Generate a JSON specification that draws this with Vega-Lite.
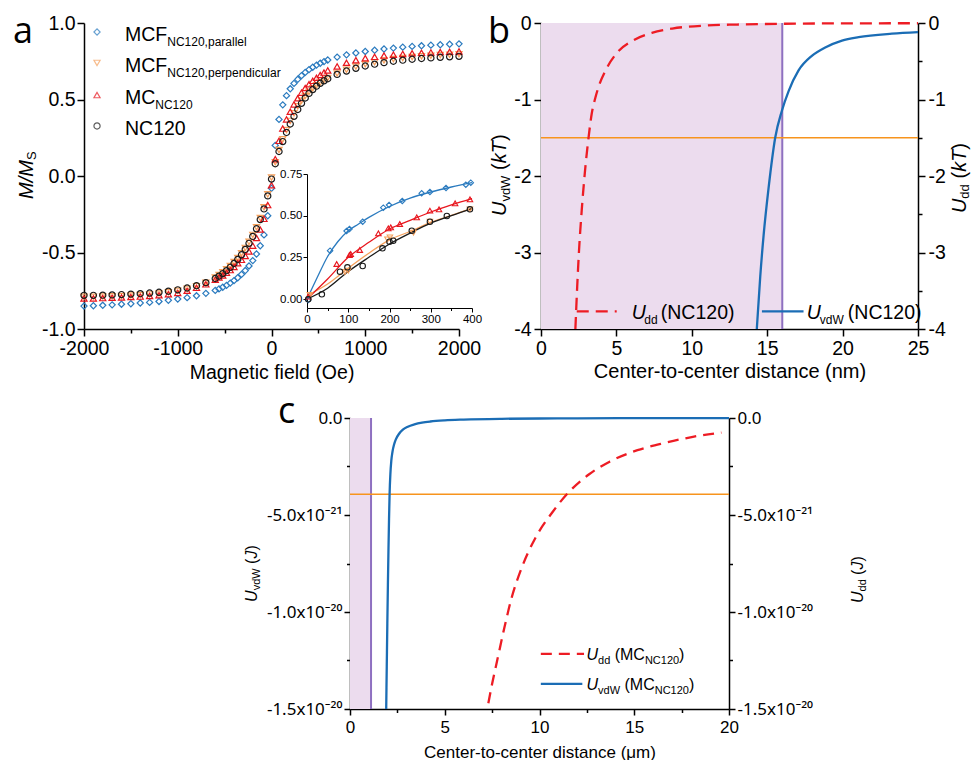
{
"$schema": "https://vega.github.io/schema/vega-lite/v6.json",
"padding": {"left": 13, "top": 13, "right": 0, "bottom": 0},
"background": "white",
"config": {
  "font": "Liberation Sans",
  "view": {"stroke": null},
  "axis": {"grid": false, "domainColor": "#000000", "tickColor": "#000000", "labelColor": "#000000", "titleColor": "#000000", "domainWidth": 1.5, "tickWidth": 1.5, "labelFlush": false, "labelOverlap": false, "labelBound": false, "titleFontWeight": "normal", "labelFont": "Liberation Sans", "titleFont": "Liberation Sans"},
  "text": {"font": "Liberation Sans", "color": "#000000"}
},
"datasets": {
  "magnet": [
    {"s":"p","h":-2000,"m":-0.85},{"s":"p","h":-1900,"m":-0.848},{"s":"p","h":-1800,"m":-0.845},{"s":"p","h":-1700,"m":-0.842},{"s":"p","h":-1600,"m":-0.838},{"s":"p","h":-1500,"m":-0.835},{"s":"p","h":-1400,"m":-0.83},{"s":"p","h":-1300,"m":-0.826},{"s":"p","h":-1200,"m":-0.82},{"s":"p","h":-1100,"m":-0.812},{"s":"p","h":-1000,"m":-0.804},{"s":"p","h":-900,"m":-0.795},{"s":"p","h":-800,"m":-0.783},{"s":"p","h":-700,"m":-0.767},{"s":"p","h":-600,"m":-0.748},{"s":"p","h":-560,"m":-0.738},{"s":"p","h":-520,"m":-0.727},{"s":"p","h":-480,"m":-0.715},{"s":"p","h":-440,"m":-0.7},{"s":"p","h":-400,"m":-0.684},{"s":"p","h":-360,"m":-0.665},{"s":"p","h":-320,"m":-0.643},{"s":"p","h":-280,"m":-0.618},{"s":"p","h":-240,"m":-0.588},{"s":"p","h":-200,"m":-0.553},{"s":"p","h":-160,"m":-0.51},{"s":"p","h":-120,"m":-0.456},{"s":"p","h":-80,"m":-0.385},{"s":"p","h":-40,"m":-0.26},{"s":"p","h":0,"m":-0.08},{"s":"p","h":40,"m":0.2},{"s":"p","h":80,"m":0.37},{"s":"p","h":120,"m":0.465},{"s":"p","h":160,"m":0.525},{"s":"p","h":200,"m":0.57},{"s":"p","h":240,"m":0.605},{"s":"p","h":280,"m":0.632},{"s":"p","h":320,"m":0.656},{"s":"p","h":360,"m":0.677},{"s":"p","h":400,"m":0.695},{"s":"p","h":440,"m":0.711},{"s":"p","h":480,"m":0.725},{"s":"p","h":520,"m":0.737},{"s":"p","h":560,"m":0.748},{"s":"p","h":600,"m":0.758},{"s":"p","h":700,"m":0.777},{"s":"p","h":800,"m":0.792},{"s":"p","h":900,"m":0.804},{"s":"p","h":1000,"m":0.814},{"s":"p","h":1100,"m":0.822},{"s":"p","h":1200,"m":0.83},{"s":"p","h":1300,"m":0.836},{"s":"p","h":1400,"m":0.842},{"s":"p","h":1500,"m":0.847},{"s":"p","h":1600,"m":0.851},{"s":"p","h":1700,"m":0.855},{"s":"p","h":1800,"m":0.858},{"s":"p","h":1900,"m":0.861},{"s":"p","h":2000,"m":0.864},
    {"s":"o","h":-2000,"m":-0.79},{"s":"o","h":-1900,"m":-0.79},{"s":"o","h":-1800,"m":-0.788},{"s":"o","h":-1700,"m":-0.786},{"s":"o","h":-1600,"m":-0.784},{"s":"o","h":-1500,"m":-0.781},{"s":"o","h":-1400,"m":-0.778},{"s":"o","h":-1300,"m":-0.774},{"s":"o","h":-1200,"m":-0.768},{"s":"o","h":-1100,"m":-0.76},{"s":"o","h":-1000,"m":-0.75},{"s":"o","h":-900,"m":-0.737},{"s":"o","h":-800,"m":-0.72},{"s":"o","h":-700,"m":-0.698},{"s":"o","h":-600,"m":-0.664},{"s":"o","h":-560,"m":-0.648},{"s":"o","h":-520,"m":-0.63},{"s":"o","h":-480,"m":-0.61},{"s":"o","h":-440,"m":-0.588},{"s":"o","h":-400,"m":-0.563},{"s":"o","h":-360,"m":-0.536},{"s":"o","h":-320,"m":-0.505},{"s":"o","h":-280,"m":-0.47},{"s":"o","h":-240,"m":-0.43},{"s":"o","h":-200,"m":-0.385},{"s":"o","h":-160,"m":-0.335},{"s":"o","h":-120,"m":-0.275},{"s":"o","h":-80,"m":-0.205},{"s":"o","h":-40,"m":-0.12},{"s":"o","h":0,"m":-0.01},{"s":"o","h":40,"m":0.09},{"s":"o","h":80,"m":0.17},{"s":"o","h":120,"m":0.24},{"s":"o","h":160,"m":0.3},{"s":"o","h":200,"m":0.36},{"s":"o","h":240,"m":0.41},{"s":"o","h":280,"m":0.455},{"s":"o","h":320,"m":0.492},{"s":"o","h":360,"m":0.523},{"s":"o","h":400,"m":0.55},{"s":"o","h":440,"m":0.573},{"s":"o","h":480,"m":0.593},{"s":"o","h":520,"m":0.611},{"s":"o","h":560,"m":0.627},{"s":"o","h":600,"m":0.641},{"s":"o","h":700,"m":0.67},{"s":"o","h":800,"m":0.695},{"s":"o","h":900,"m":0.715},{"s":"o","h":1000,"m":0.731},{"s":"o","h":1100,"m":0.744},{"s":"o","h":1200,"m":0.755},{"s":"o","h":1300,"m":0.764},{"s":"o","h":1400,"m":0.771},{"s":"o","h":1500,"m":0.777},{"s":"o","h":1600,"m":0.782},{"s":"o","h":1700,"m":0.786},{"s":"o","h":1800,"m":0.79},{"s":"o","h":1900,"m":0.793},{"s":"o","h":2000,"m":0.796},
    {"s":"r","h":-2000,"m":-0.8},{"s":"r","h":-1900,"m":-0.8},{"s":"r","h":-1800,"m":-0.798},{"s":"r","h":-1700,"m":-0.796},{"s":"r","h":-1600,"m":-0.794},{"s":"r","h":-1500,"m":-0.791},{"s":"r","h":-1400,"m":-0.788},{"s":"r","h":-1300,"m":-0.784},{"s":"r","h":-1200,"m":-0.779},{"s":"r","h":-1100,"m":-0.772},{"s":"r","h":-1000,"m":-0.764},{"s":"r","h":-900,"m":-0.75},{"s":"r","h":-800,"m":-0.731},{"s":"r","h":-700,"m":-0.708},{"s":"r","h":-600,"m":-0.678},{"s":"r","h":-560,"m":-0.664},{"s":"r","h":-520,"m":-0.65},{"s":"r","h":-480,"m":-0.633},{"s":"r","h":-440,"m":-0.615},{"s":"r","h":-400,"m":-0.594},{"s":"r","h":-360,"m":-0.57},{"s":"r","h":-320,"m":-0.548},{"s":"r","h":-280,"m":-0.522},{"s":"r","h":-240,"m":-0.493},{"s":"r","h":-200,"m":-0.455},{"s":"r","h":-160,"m":-0.405},{"s":"r","h":-120,"m":-0.35},{"s":"r","h":-80,"m":-0.28},{"s":"r","h":-40,"m":-0.19},{"s":"r","h":0,"m":-0.06},{"s":"r","h":40,"m":0.11},{"s":"r","h":80,"m":0.23},{"s":"r","h":120,"m":0.31},{"s":"r","h":160,"m":0.37},{"s":"r","h":200,"m":0.42},{"s":"r","h":240,"m":0.468},{"s":"r","h":280,"m":0.508},{"s":"r","h":320,"m":0.545},{"s":"r","h":360,"m":0.575},{"s":"r","h":400,"m":0.6},{"s":"r","h":440,"m":0.622},{"s":"r","h":480,"m":0.642},{"s":"r","h":520,"m":0.66},{"s":"r","h":560,"m":0.676},{"s":"r","h":600,"m":0.69},{"s":"r","h":700,"m":0.716},{"s":"r","h":800,"m":0.74},{"s":"r","h":900,"m":0.757},{"s":"r","h":1000,"m":0.77},{"s":"r","h":1100,"m":0.779},{"s":"r","h":1200,"m":0.787},{"s":"r","h":1300,"m":0.793},{"s":"r","h":1400,"m":0.798},{"s":"r","h":1500,"m":0.802},{"s":"r","h":1600,"m":0.805},{"s":"r","h":1700,"m":0.808},{"s":"r","h":1800,"m":0.81},{"s":"r","h":1900,"m":0.812},{"s":"r","h":2000,"m":0.814},
    {"s":"n","h":-2000,"m":-0.78},{"s":"n","h":-1900,"m":-0.78},{"s":"n","h":-1800,"m":-0.779},{"s":"n","h":-1700,"m":-0.777},{"s":"n","h":-1600,"m":-0.775},{"s":"n","h":-1500,"m":-0.772},{"s":"n","h":-1400,"m":-0.769},{"s":"n","h":-1300,"m":-0.765},{"s":"n","h":-1200,"m":-0.76},{"s":"n","h":-1100,"m":-0.753},{"s":"n","h":-1000,"m":-0.744},{"s":"n","h":-900,"m":-0.732},{"s":"n","h":-800,"m":-0.717},{"s":"n","h":-700,"m":-0.697},{"s":"n","h":-600,"m":-0.67},{"s":"n","h":-560,"m":-0.655},{"s":"n","h":-520,"m":-0.638},{"s":"n","h":-480,"m":-0.619},{"s":"n","h":-440,"m":-0.597},{"s":"n","h":-400,"m":-0.572},{"s":"n","h":-360,"m":-0.545},{"s":"n","h":-320,"m":-0.515},{"s":"n","h":-280,"m":-0.48},{"s":"n","h":-240,"m":-0.44},{"s":"n","h":-200,"m":-0.395},{"s":"n","h":-160,"m":-0.345},{"s":"n","h":-120,"m":-0.285},{"s":"n","h":-80,"m":-0.215},{"s":"n","h":-40,"m":-0.13},{"s":"n","h":0,"m":-0.02},{"s":"n","h":40,"m":0.08},{"s":"n","h":80,"m":0.16},{"s":"n","h":120,"m":0.225},{"s":"n","h":160,"m":0.285},{"s":"n","h":200,"m":0.34},{"s":"n","h":240,"m":0.39},{"s":"n","h":280,"m":0.435},{"s":"n","h":320,"m":0.475},{"s":"n","h":360,"m":0.51},{"s":"n","h":400,"m":0.54},{"s":"n","h":440,"m":0.565},{"s":"n","h":480,"m":0.587},{"s":"n","h":520,"m":0.606},{"s":"n","h":560,"m":0.622},{"s":"n","h":600,"m":0.636},{"s":"n","h":700,"m":0.664},{"s":"n","h":800,"m":0.686},{"s":"n","h":900,"m":0.704},{"s":"n","h":1000,"m":0.719},{"s":"n","h":1100,"m":0.731},{"s":"n","h":1200,"m":0.741},{"s":"n","h":1300,"m":0.75},{"s":"n","h":1400,"m":0.757},{"s":"n","h":1500,"m":0.763},{"s":"n","h":1600,"m":0.768},{"s":"n","h":1700,"m":0.772},{"s":"n","h":1800,"m":0.776},{"s":"n","h":1900,"m":0.779},{"s":"n","h":2000,"m":0.782}
  ],
  "inset_pts": [
    {"s":"p","h":3,"m":-0.006},{"s":"p","h":56,"m":0.29},{"s":"p","h":96,"m":0.408},{"s":"p","h":103,"m":0.42},{"s":"p","h":135,"m":0.464},{"s":"p","h":185,"m":0.548},{"s":"p","h":199,"m":0.564},{"s":"p","h":231,"m":0.588},{"s":"p","h":278,"m":0.634},{"s":"p","h":298,"m":0.642},{"s":"p","h":337,"m":0.666},{"s":"p","h":385,"m":0.686},{"s":"p","h":397,"m":0.698},
    {"s":"o","h":7,"m":0.024},{"s":"o","h":92,"m":0.162},{"s":"o","h":100,"m":0.17},{"s":"o","h":195,"m":0.358},{"s":"o","h":201,"m":0.37},{"s":"o","h":258,"m":0.398},{"s":"o","h":298,"m":0.464},{"s":"o","h":395,"m":0.538},
    {"s":"r","h":3,"m":0.014},{"s":"r","h":72,"m":0.21},{"s":"r","h":103,"m":0.264},{"s":"r","h":106,"m":0.27},{"s":"r","h":128,"m":0.294},{"s":"r","h":173,"m":0.394},{"s":"r","h":197,"m":0.424},{"s":"r","h":203,"m":0.43},{"s":"r","h":225,"m":0.45},{"s":"r","h":266,"m":0.49},{"s":"r","h":298,"m":0.53},{"s":"r","h":320,"m":0.538},{"s":"r","h":359,"m":0.574},{"s":"r","h":395,"m":0.598},
    {"s":"n","h":3,"m":-0.002},{"s":"n","h":36,"m":0.028},{"s":"n","h":80,"m":0.164},{"s":"n","h":98,"m":0.19},{"s":"n","h":135,"m":0.198},{"s":"n","h":183,"m":0.304},{"s":"n","h":200,"m":0.344},{"s":"n","h":209,"m":0.35},{"s":"n","h":254,"m":0.41},{"s":"n","h":298,"m":0.464},{"s":"n","h":339,"m":0.498},{"s":"n","h":395,"m":0.538}
  ],
  "inset_lines": [
    {"s":"p","h":0,"m":0.0},{"s":"p","h":25,"m":0.13},{"s":"p","h":50,"m":0.255},{"s":"p","h":75,"m":0.345},{"s":"p","h":100,"m":0.41},{"s":"p","h":125,"m":0.45},{"s":"p","h":150,"m":0.49},{"s":"p","h":200,"m":0.555},{"s":"p","h":250,"m":0.605},{"s":"p","h":300,"m":0.642},{"s":"p","h":350,"m":0.672},{"s":"p","h":400,"m":0.698},
    {"s":"o","h":0,"m":0.02},{"s":"o","h":50,"m":0.09},{"s":"o","h":100,"m":0.185},{"s":"o","h":150,"m":0.275},{"s":"o","h":200,"m":0.355},{"s":"o","h":250,"m":0.405},{"s":"o","h":300,"m":0.46},{"s":"o","h":350,"m":0.502},{"s":"o","h":400,"m":0.545},
    {"s":"r","h":0,"m":0.0},{"s":"r","h":50,"m":0.12},{"s":"r","h":100,"m":0.25},{"s":"r","h":150,"m":0.34},{"s":"r","h":200,"m":0.42},{"s":"r","h":250,"m":0.472},{"s":"r","h":300,"m":0.522},{"s":"r","h":350,"m":0.565},{"s":"r","h":400,"m":0.603},
    {"s":"n","h":0,"m":0.0},{"s":"n","h":50,"m":0.065},{"s":"n","h":100,"m":0.165},{"s":"n","h":150,"m":0.25},{"s":"n","h":200,"m":0.33},{"s":"n","h":250,"m":0.395},{"s":"n","h":300,"m":0.455},{"s":"n","h":350,"m":0.5},{"s":"n","h":400,"m":0.542}
  ],
  "b_vdw": [
    {"d":14.31,"u":-4.0},{"d":14.54,"u":-3.31},{"d":14.76,"u":-2.78},{"d":15.09,"u":-2.16},{"d":15.53,"u":-1.5},{"d":15.97,"u":-1.15},{"d":16.42,"u":-0.89},{"d":17.08,"u":-0.62},{"d":17.96,"u":-0.43},{"d":18.85,"u":-0.32},{"d":19.96,"u":-0.23},{"d":21.06,"u":-0.185},{"d":23.27,"u":-0.14},{"d":25,"u":-0.12}
  ],
  "b_dd": [
    {"d":2.28,"u":-4.0},{"d":2.4,"u":-3.45},{"d":2.52,"u":-2.98},{"d":2.7,"u":-2.45},{"d":2.92,"u":-1.93},{"d":3.14,"u":-1.52},{"d":3.36,"u":-1.19},{"d":3.6,"u":-0.98},{"d":3.8,"u":-0.845},{"d":4.36,"u":-0.59},{"d":5.13,"u":-0.37},{"d":6.0,"u":-0.24},{"d":7.35,"u":-0.13},{"d":8.7,"u":-0.073},{"d":10.9,"u":-0.033},{"d":13,"u":-0.02},{"d":16,"u":-0.01},{"d":20,"u":-0.005},{"d":25,"u":-0.003}
  ],
  "c_vdw": [
    {"d":1.91,"u":-1.5e-20},{"d":1.94,"u":-1.28e-20},{"d":1.97,"u":-1.06e-20},{"d":2.0,"u":-8.6e-21},{"d":2.03,"u":-6.8e-21},{"d":2.06,"u":-5.2e-21},{"d":2.09,"u":-3.9e-21},{"d":2.13,"u":-2.9e-21},{"d":2.18,"u":-2.2e-21},{"d":2.24,"u":-1.75e-21},{"d":2.33,"u":-1.35e-21},{"d":2.42,"u":-1.1e-21},{"d":2.6,"u":-8e-22},{"d":2.79,"u":-6e-22},{"d":3.05,"u":-4.5e-22},{"d":3.4,"u":-3.3e-22},{"d":3.8,"u":-2.4e-22},{"d":4.24,"u":-1.8e-22},{"d":5.0,"u":-1.2e-22},{"d":6.0,"u":-8e-23},{"d":8.0,"u":-4e-23},{"d":10.0,"u":-2.5e-23},{"d":12.0,"u":-1.7e-23},{"d":15.0,"u":-1e-23},{"d":20.0,"u":-5e-24}
  ],
  "c_dd": [
    {"d":7.3,"u":-1.47e-20},{"d":7.5,"u":-1.37e-20},{"d":7.8,"u":-1.235e-20},{"d":8.16,"u":-1.075e-20},{"d":8.52,"u":-9.3e-21},{"d":9.07,"u":-7.7e-21},{"d":9.8,"u":-6.15e-21},{"d":10.71,"u":-4.82e-21},{"d":11.44,"u":-3.93e-21},{"d":12.62,"u":-2.9e-21},{"d":13.7,"u":-2.25e-21},{"d":15.17,"u":-1.66e-21},{"d":16.63,"u":-1.28e-21},{"d":18.09,"u":-9.7e-22},{"d":19.6,"u":-7.5e-22}
  ]
},
"spacing": 12,
"vconcat": [
  {
    "spacing": 6,
    "hconcat": [
      {
        "width": 375, "height": 306,
        "layer": [
          {
            "layer": [
              {
                "data": {"name": "magnet"},
                "mark": {"type": "point", "filled": false, "size": 38, "strokeWidth": 1.2, "opacity": 1},
                "encoding": {
                  "x": {"field": "h", "type": "quantitative", "title": "Magnetic field (Oe)", "scale": {"domain": [-2000, 2000], "nice": false, "zero": false},
                        "axis": {"values": [-2000,-1500,-1000,-500,0,500,1000,1500,2000], "labelExpr": "datum.value % 1000 == 0 ? '' + datum.value : ''", "tickSize": {"condition": {"test": "datum.value % 1000 != 0", "value": 4}, "value": 7}, "labelFontSize": 19.5, "labelPadding": 3, "titleFontSize": 19.5, "titlePadding": 6}},
                  "y": {"field": "m", "type": "quantitative", "title": null, "scale": {"domain": [-1, 1], "nice": false, "zero": false},
                        "axis": {"values": [-1,-0.75,-0.5,-0.25,0,0.25,0.5,0.75,1], "labelExpr": "abs(datum.value*2 - round(datum.value*2)) < 0.01 ? replace(format(datum.value, '.1f'), '\u2212', '-') : ''", "tickSize": {"condition": {"test": "abs(datum.value*2 - round(datum.value*2)) > 0.01", "value": 4}, "value": 7}, "labelFontSize": 19.5, "labelPadding": 2}},
                  "color": {"field": "s", "type": "nominal", "scale": {"domain": ["p","o","r","n"], "range": ["#2b7bbf","#f5a05c","#e8161e","#1a1a1a"]}, "legend": null},
                  "shape": {"field": "s", "type": "nominal", "scale": {"domain": ["p","o","r","n"], "range": ["diamond","triangle-down","triangle-up","circle"]}, "legend": null}
                }
              },
              {"data": {"values": [{}]}, "mark": {"type": "point", "shape": "diamond", "color": "#2b7bbf", "filled": false, "size": 38, "strokeWidth": 1.2}, "encoding": {"x": {"datum": -1861}, "y": {"datum": 0.941}}},
              {"data": {"values": [{}]}, "mark": {"type": "point", "shape": "triangle-down", "color": "#f5a05c", "filled": false, "size": 38, "strokeWidth": 1.2}, "encoding": {"x": {"datum": -1861}, "y": {"datum": 0.739}}},
              {"data": {"values": [{}]}, "mark": {"type": "point", "shape": "triangle-up", "color": "#e8161e", "filled": false, "size": 38, "strokeWidth": 1.2}, "encoding": {"x": {"datum": -1861}, "y": {"datum": 0.529}}},
              {"data": {"values": [{}]}, "mark": {"type": "point", "shape": "circle", "color": "#1a1a1a", "filled": false, "size": 38, "strokeWidth": 1.2}, "encoding": {"x": {"datum": -1861}, "y": {"datum": 0.327}}},
              {"data": {"values": [{}]}, "mark": {"type": "text", "text": "MCF", "fontSize": 19.5, "align": "left", "baseline": "alphabetic", "dy": 9}, "encoding": {"x": {"datum": -1563}, "y": {"datum": 0.941}}},
              {"data": {"values": [{}]}, "mark": {"type": "text", "text": "NC120,parallel", "fontSize": 12, "align": "left", "baseline": "alphabetic", "dx": 42.3, "dy": 14}, "encoding": {"x": {"datum": -1563}, "y": {"datum": 0.941}}},
              {"data": {"values": [{}]}, "mark": {"type": "text", "text": "MCF", "fontSize": 19.5, "align": "left", "baseline": "alphabetic", "dy": 9}, "encoding": {"x": {"datum": -1563}, "y": {"datum": 0.739}}},
              {"data": {"values": [{}]}, "mark": {"type": "text", "text": "NC120,perpendicular", "fontSize": 12, "align": "left", "baseline": "alphabetic", "dx": 42.3, "dy": 14}, "encoding": {"x": {"datum": -1563}, "y": {"datum": 0.739}}},
              {"data": {"values": [{}]}, "mark": {"type": "text", "text": "MC", "fontSize": 19.5, "align": "left", "baseline": "alphabetic", "dy": 9}, "encoding": {"x": {"datum": -1563}, "y": {"datum": 0.529}}},
              {"data": {"values": [{}]}, "mark": {"type": "text", "text": "NC120", "fontSize": 12, "align": "left", "baseline": "alphabetic", "dx": 30.3, "dy": 14}, "encoding": {"x": {"datum": -1563}, "y": {"datum": 0.529}}},
              {"data": {"values": [{}]}, "mark": {"type": "text", "text": "NC120", "fontSize": 19.5, "align": "left", "baseline": "alphabetic", "dy": 9}, "encoding": {"x": {"datum": -1563}, "y": {"datum": 0.327}}},
              {"data": {"values": [{}]}, "mark": {"type": "text", "text": "M/M", "fontStyle": "italic", "fontSize": 20, "angle": 270, "align": "left", "baseline": "alphabetic", "dy": -51}, "encoding": {"x": {"datum": -2000}, "y": {"datum": -0.15}}},
              {"data": {"values": [{}]}, "mark": {"type": "text", "text": "S", "fontSize": 13, "angle": 270, "align": "left", "baseline": "alphabetic", "dx": 39, "dy": -48}, "encoding": {"x": {"datum": -2000}, "y": {"datum": -0.15}}},
              {"data": {"values": [{}]}, "mark": {"type": "text", "text": "a", "font": "Open Sans", "fontSize": 36, "align": "left", "baseline": "alphabetic", "dx": -71, "dy": 20}, "encoding": {"x": {"datum": -2000}, "y": {"datum": 1}}}
            ]
          },
          {
            "layer": [
              {
                "data": {"name": "inset_lines"},
                "mark": {"type": "line", "strokeWidth": 1.3, "interpolate": "monotone"},
                "encoding": {
                  "x": {"field": "h", "type": "quantitative", "title": null, "scale": {"domain": [0, 400], "nice": false, "zero": false, "range": [223, 388]},
                        "axis": {"orient": "bottom", "offset": -21, "values": [0,50,100,150,200,250,300,350,400], "labelExpr": "datum.value % 100 == 0 ? '' + datum.value : ''", "tickSize": {"condition": {"test": "datum.value % 100 != 0", "value": 2.5}, "value": 4}, "labelFontSize": 11.5, "labelPadding": 1, "domainWidth": 1, "tickWidth": 1}},
                  "y": {"field": "m", "type": "quantitative", "title": null, "scale": {"domain": [-0.054, 0.75], "nice": false, "zero": false, "range": [285, 151]},
                        "axis": {"orient": "left", "offset": -223, "values": [0, 0.25, 0.5, 0.75], "format": ".2f", "tickSize": 4, "labelFontSize": 11.5, "labelPadding": 1, "domainWidth": 1, "tickWidth": 1}},
                  "color": {"field": "s", "type": "nominal", "legend": null}
                }
              },
              {
                "data": {"name": "inset_pts"},
                "mark": {"type": "point", "filled": false, "size": 30, "strokeWidth": 1.1, "opacity": 1},
                "encoding": {
                  "x": {"field": "h", "type": "quantitative", "title": null},
                  "y": {"field": "m", "type": "quantitative", "title": null},
                  "color": {"field": "s", "type": "nominal", "legend": null},
                  "shape": {"field": "s", "type": "nominal", "legend": null}
                }
              }
            ]
          }
        ],
        "resolve": {"scale": {"x": "independent", "y": "independent"}}
      },
      {
        "width": 377, "height": 306,
        "layer": [
          {
            "layer": [
              {"data": {"values": [{}]}, "mark": {"type": "rect", "color": "#ecdcee"}, "encoding": {"x": {"datum": 0}, "x2": {"datum": 16}, "y": {"datum": -4}, "y2": {"datum": 0}}},
              {"data": {"values": [{}]}, "mark": {"type": "rule", "color": "#8e70c0", "strokeWidth": 2}, "encoding": {"x": {"datum": 16}, "y": {"datum": -4}, "y2": {"datum": 0}}},
              {"data": {"values": [{}]}, "mark": {"type": "rule", "color": "#f7941d", "strokeWidth": 1.6}, "encoding": {"x": {"datum": 0}, "x2": {"datum": 25}, "y": {"datum": -1.5}}},
              {
                "data": {"name": "b_vdw"},
                "mark": {"type": "line", "color": "#1b6db5", "strokeWidth": 2.3, "interpolate": "monotone"},
                "encoding": {
                  "x": {"field": "d", "type": "quantitative", "title": "Center-to-center distance (nm)", "scale": {"domain": [0, 25], "nice": false, "zero": false},
                        "axis": {"values": [0,2.5,5,7.5,10,12.5,15,17.5,20,22.5,25], "labelExpr": "datum.value % 5 == 0 ? '' + datum.value : ''", "tickSize": {"condition": {"test": "datum.value % 5 != 0", "value": 4}, "value": 7}, "labelFontSize": 19.5, "labelPadding": 3, "titleFontSize": 20, "titlePadding": 4}},
                  "y": {"field": "u", "type": "quantitative", "title": null, "scale": {"domain": [-4, 0], "nice": false, "zero": false},
                        "axis": {"values": [0,-0.5,-1,-1.5,-2,-2.5,-3,-3.5,-4], "labelExpr": "datum.value % 1 == 0 ? '' + datum.value : ''", "tickSize": {"condition": {"test": "datum.value % 1 != 0", "value": 4}, "value": 7}, "labelFontSize": 19.5, "labelPadding": 3}}
                }
              },
              {"data": {"values": [{}]}, "mark": {"type": "rule", "color": "#ed1c24", "strokeWidth": 2.3, "strokeDash": [12, 7]}, "encoding": {"x": {"datum": 2.37}, "x2": {"datum": 5.02}, "y": {"datum": -3.77}}},
              {"data": {"values": [{}]}, "mark": {"type": "text", "text": "U", "fontStyle": "italic", "fontSize": 19.5, "align": "left", "baseline": "alphabetic", "dy": 8}, "encoding": {"x": {"datum": 6.02}, "y": {"datum": -3.77}}},
              {"data": {"values": [{}]}, "mark": {"type": "text", "text": "dd", "fontSize": 12, "align": "left", "baseline": "alphabetic", "dx": 12.5, "dy": 13}, "encoding": {"x": {"datum": 6.02}, "y": {"datum": -3.77}}},
              {"data": {"values": [{}]}, "mark": {"type": "text", "text": "(NC120)", "fontSize": 19.5, "align": "left", "baseline": "alphabetic", "dx": 29, "dy": 8}, "encoding": {"x": {"datum": 6.02}, "y": {"datum": -3.77}}},
              {"data": {"values": [{}]}, "mark": {"type": "rule", "color": "#1b6db5", "strokeWidth": 2.3}, "encoding": {"x": {"datum": 14.65}, "x2": {"datum": 17.41}, "y": {"datum": -3.77}}},
              {"data": {"values": [{}]}, "mark": {"type": "text", "text": "U", "fontStyle": "italic", "fontSize": 19.5, "align": "left", "baseline": "alphabetic", "dy": 8}, "encoding": {"x": {"datum": 17.63}, "y": {"datum": -3.77}}},
              {"data": {"values": [{}]}, "mark": {"type": "text", "text": "vdW", "fontSize": 12, "align": "left", "baseline": "alphabetic", "dx": 13, "dy": 13}, "encoding": {"x": {"datum": 17.63}, "y": {"datum": -3.77}}},
              {"data": {"values": [{}]}, "mark": {"type": "text", "text": "(NC120)", "fontSize": 19.5, "align": "left", "baseline": "alphabetic", "dx": 41, "dy": 8}, "encoding": {"x": {"datum": 17.63}, "y": {"datum": -3.77}}},
              {"data": {"values": [{}]}, "mark": {"type": "text", "text": "U", "fontStyle": "italic", "fontSize": 20, "angle": 270, "align": "left", "baseline": "alphabetic", "dy": -35}, "encoding": {"x": {"datum": 0}, "y": {"datum": -2.523}}},
              {"data": {"values": [{}]}, "mark": {"type": "text", "text": "vdW", "fontSize": 13, "angle": 270, "align": "left", "baseline": "alphabetic", "dx": 14.4, "dy": -31}, "encoding": {"x": {"datum": 0}, "y": {"datum": -2.523}}},
              {"data": {"values": [{}]}, "mark": {"type": "text", "text": "(", "fontSize": 20, "angle": 270, "align": "left", "baseline": "alphabetic", "dx": 46, "dy": -35}, "encoding": {"x": {"datum": 0}, "y": {"datum": -2.523}}},
              {"data": {"values": [{}]}, "mark": {"type": "text", "text": "kT", "fontStyle": "italic", "fontSize": 20, "angle": 270, "align": "left", "baseline": "alphabetic", "dx": 52.7, "dy": -35}, "encoding": {"x": {"datum": 0}, "y": {"datum": -2.523}}},
              {"data": {"values": [{}]}, "mark": {"type": "text", "text": ")", "fontSize": 20, "angle": 270, "align": "left", "baseline": "alphabetic", "dx": 74.9, "dy": -35}, "encoding": {"x": {"datum": 0}, "y": {"datum": -2.523}}},
              {"data": {"values": [{}]}, "mark": {"type": "text", "text": "U", "fontStyle": "italic", "fontSize": 20, "angle": 270, "align": "left", "baseline": "alphabetic", "dy": 48}, "encoding": {"x": {"datum": 25}, "y": {"datum": -2.484}}},
              {"data": {"values": [{}]}, "mark": {"type": "text", "text": "dd", "fontSize": 13, "angle": 270, "align": "left", "baseline": "alphabetic", "dx": 14.4, "dy": 51}, "encoding": {"x": {"datum": 25}, "y": {"datum": -2.484}}},
              {"data": {"values": [{}]}, "mark": {"type": "text", "text": "(", "fontSize": 20, "angle": 270, "align": "left", "baseline": "alphabetic", "dx": 34.5, "dy": 48}, "encoding": {"x": {"datum": 25}, "y": {"datum": -2.484}}},
              {"data": {"values": [{}]}, "mark": {"type": "text", "text": "kT", "fontStyle": "italic", "fontSize": 20, "angle": 270, "align": "left", "baseline": "alphabetic", "dx": 41.2, "dy": 48}, "encoding": {"x": {"datum": 25}, "y": {"datum": -2.484}}},
              {"data": {"values": [{}]}, "mark": {"type": "text", "text": ")", "fontSize": 20, "angle": 270, "align": "left", "baseline": "alphabetic", "dx": 63.4, "dy": 48}, "encoding": {"x": {"datum": 25}, "y": {"datum": -2.484}}},
              {"data": {"values": [{}]}, "mark": {"type": "text", "text": "b", "font": "Open Sans", "fontSize": 36, "align": "left", "baseline": "alphabetic", "dx": -53, "dy": 20}, "encoding": {"x": {"datum": 0}, "y": {"datum": 0}}}
            ]
          },
          {
            "data": {"name": "b_dd"},
            "mark": {"type": "line", "color": "#ed1c24", "strokeWidth": 2.3, "strokeDash": [12, 7], "interpolate": "monotone"},
            "encoding": {
              "x": {"field": "d", "type": "quantitative", "title": "Center-to-center distance (nm)"},
              "y": {"field": "u", "type": "quantitative", "title": null, "scale": {"domain": [-4, 0], "nice": false, "zero": false},
                    "axis": {"orient": "right", "values": [0,-0.5,-1,-1.5,-2,-2.5,-3,-3.5,-4], "labelExpr": "datum.value % 1 == 0 ? '' + datum.value : ''", "tickSize": {"condition": {"test": "datum.value % 1 != 0", "value": 4}, "value": 7}, "labelFontSize": 19.5, "labelPadding": 3}}
            }
          }
        ],
        "resolve": {"scale": {"y": "independent"}}
      }
    ]
  },
  {
    "spacing": 0,
    "hconcat": [
      {"width": 159, "height": 20, "data": {"values": [{}]}, "mark": {"type": "point", "opacity": 0}},
      {
        "width": 379, "height": 291,
        "layer": [
          {
            "layer": [
              {"data": {"values": [{}]}, "mark": {"type": "rect", "color": "#ecdcee"}, "encoding": {"x": {"datum": 0}, "x2": {"datum": 1.11}, "y": {"datum": -1.5e-20}, "y2": {"datum": 0}}},
              {"data": {"values": [{}]}, "mark": {"type": "rule", "color": "#8e70c0", "strokeWidth": 2}, "encoding": {"x": {"datum": 1.11}, "y": {"datum": -1.5e-20}, "y2": {"datum": 0}}},
              {"data": {"values": [{}]}, "mark": {"type": "rule", "color": "#f7941d", "strokeWidth": 1.6}, "encoding": {"x": {"datum": 0}, "x2": {"datum": 20}, "y": {"datum": -3.93e-21}}},
              {
                "data": {"name": "c_vdw"},
                "mark": {"type": "line", "color": "#1b6db5", "strokeWidth": 2.3, "interpolate": "monotone"},
                "encoding": {
                  "x": {"field": "d", "type": "quantitative", "title": "Center-to-center distance (\u03bcm)", "scale": {"domain": [0, 20], "nice": false, "zero": false},
                        "axis": {"values": [0,2.5,5,7.5,10,12.5,15,17.5,20], "labelExpr": "datum.value % 5 == 0 ? '' + datum.value : ''", "tickSize": {"condition": {"test": "datum.value % 5 != 0", "value": 3.5}, "value": 6}, "labelFontSize": 17, "labelPadding": 4, "titleFontSize": 17, "titlePadding": 9}},
                  "y": {"field": "u", "type": "quantitative", "title": null, "scale": {"domain": [-1.5e-20, 0], "nice": false, "zero": false},
                        "axis": {"values": [0,-2.5e-21,-5e-21,-7.5e-21,-1e-20,-1.25e-20,-1.5e-20], "labelExpr": "datum.value == 0 ? '0.0' : abs(datum.value + 5e-21) < 1e-23 ? '-5.0x10\u207b\u00b2\u00b9' : abs(datum.value + 1e-20) < 1e-23 ? '-1.0x10\u207b\u00b2\u2070' : abs(datum.value + 1.5e-20) < 1e-23 ? '-1.5x10\u207b\u00b2\u2070' : ''", "tickSize": {"condition": {"test": "abs(datum.value/5e-21 - round(datum.value/5e-21)) > 0.01", "value": 3.5}, "value": 6}, "labelFont": "Noto Sans", "labelFontSize": 17, "labelPadding": 2}}
                }
              },
              {"data": {"values": [{}]}, "mark": {"type": "rule", "color": "#ed1c24", "strokeWidth": 2.3, "strokeDash": [11, 7]}, "encoding": {"x": {"datum": 10.07}, "x2": {"datum": 12.35}, "y": {"datum": -1.216e-20}}},
              {"data": {"values": [{}]}, "mark": {"type": "text", "text": "U", "fontStyle": "italic", "fontSize": 16, "align": "left", "baseline": "alphabetic", "dy": 6}, "encoding": {"x": {"datum": 12.48}, "y": {"datum": -1.216e-20}}},
              {"data": {"values": [{}]}, "mark": {"type": "text", "text": "dd", "fontSize": 11, "align": "left", "baseline": "alphabetic", "dx": 11.6, "dy": 10}, "encoding": {"x": {"datum": 12.48}, "y": {"datum": -1.216e-20}}},
              {"data": {"values": [{}]}, "mark": {"type": "text", "text": "(MC", "fontSize": 16, "align": "left", "baseline": "alphabetic", "dx": 28.2, "dy": 6}, "encoding": {"x": {"datum": 12.48}, "y": {"datum": -1.216e-20}}},
              {"data": {"values": [{}]}, "mark": {"type": "text", "text": "NC120", "fontSize": 11, "align": "left", "baseline": "alphabetic", "dx": 58.4, "dy": 10}, "encoding": {"x": {"datum": 12.48}, "y": {"datum": -1.216e-20}}},
              {"data": {"values": [{}]}, "mark": {"type": "text", "text": ")", "fontSize": 16, "align": "left", "baseline": "alphabetic", "dx": 92.6, "dy": 6}, "encoding": {"x": {"datum": 12.48}, "y": {"datum": -1.216e-20}}},
              {"data": {"values": [{}]}, "mark": {"type": "rule", "color": "#1b6db5", "strokeWidth": 2.3}, "encoding": {"x": {"datum": 10.07}, "x2": {"datum": 12.26}, "y": {"datum": -1.371e-20}}},
              {"data": {"values": [{}]}, "mark": {"type": "text", "text": "U", "fontStyle": "italic", "fontSize": 16, "align": "left", "baseline": "alphabetic", "dy": 6}, "encoding": {"x": {"datum": 12.48}, "y": {"datum": -1.371e-20}}},
              {"data": {"values": [{}]}, "mark": {"type": "text", "text": "vdW", "fontSize": 11, "align": "left", "baseline": "alphabetic", "dx": 11.6, "dy": 10}, "encoding": {"x": {"datum": 12.48}, "y": {"datum": -1.371e-20}}},
              {"data": {"values": [{}]}, "mark": {"type": "text", "text": "(MC", "fontSize": 16, "align": "left", "baseline": "alphabetic", "dx": 38, "dy": 6}, "encoding": {"x": {"datum": 12.48}, "y": {"datum": -1.371e-20}}},
              {"data": {"values": [{}]}, "mark": {"type": "text", "text": "NC120", "fontSize": 11, "align": "left", "baseline": "alphabetic", "dx": 68.2, "dy": 10}, "encoding": {"x": {"datum": 12.48}, "y": {"datum": -1.371e-20}}},
              {"data": {"values": [{}]}, "mark": {"type": "text", "text": ")", "fontSize": 16, "align": "left", "baseline": "alphabetic", "dx": 102.4, "dy": 6}, "encoding": {"x": {"datum": 12.48}, "y": {"datum": -1.371e-20}}},
              {"data": {"values": [{}]}, "mark": {"type": "text", "text": "U", "fontStyle": "italic", "fontSize": 16, "angle": 270, "align": "left", "baseline": "alphabetic", "dy": -93}, "encoding": {"x": {"datum": 0}, "y": {"datum": -9.48e-21}}},
              {"data": {"values": [{}]}, "mark": {"type": "text", "text": "vdW", "fontSize": 11, "angle": 270, "align": "left", "baseline": "alphabetic", "dx": 11.6, "dy": -90}, "encoding": {"x": {"datum": 0}, "y": {"datum": -9.48e-21}}},
              {"data": {"values": [{}]}, "mark": {"type": "text", "text": "(", "fontSize": 16, "angle": 270, "align": "left", "baseline": "alphabetic", "dx": 38, "dy": -93}, "encoding": {"x": {"datum": 0}, "y": {"datum": -9.48e-21}}},
              {"data": {"values": [{}]}, "mark": {"type": "text", "text": "J", "fontStyle": "italic", "fontSize": 16, "angle": 270, "align": "left", "baseline": "alphabetic", "dx": 43.3, "dy": -93}, "encoding": {"x": {"datum": 0}, "y": {"datum": -9.48e-21}}},
              {"data": {"values": [{}]}, "mark": {"type": "text", "text": ")", "fontSize": 16, "angle": 270, "align": "left", "baseline": "alphabetic", "dx": 51.3, "dy": -93}, "encoding": {"x": {"datum": 0}, "y": {"datum": -9.48e-21}}},
              {"data": {"values": [{}]}, "mark": {"type": "text", "text": "U", "fontStyle": "italic", "fontSize": 16, "angle": 270, "align": "left", "baseline": "alphabetic", "dy": 134}, "encoding": {"x": {"datum": 20}, "y": {"datum": -9.54e-21}}},
              {"data": {"values": [{}]}, "mark": {"type": "text", "text": "dd", "fontSize": 11, "angle": 270, "align": "left", "baseline": "alphabetic", "dx": 11.6, "dy": 137}, "encoding": {"x": {"datum": 20}, "y": {"datum": -9.54e-21}}},
              {"data": {"values": [{}]}, "mark": {"type": "text", "text": "(", "fontSize": 16, "angle": 270, "align": "left", "baseline": "alphabetic", "dx": 28.2, "dy": 134}, "encoding": {"x": {"datum": 20}, "y": {"datum": -9.54e-21}}},
              {"data": {"values": [{}]}, "mark": {"type": "text", "text": "J", "fontStyle": "italic", "fontSize": 16, "angle": 270, "align": "left", "baseline": "alphabetic", "dx": 33.5, "dy": 134}, "encoding": {"x": {"datum": 20}, "y": {"datum": -9.54e-21}}},
              {"data": {"values": [{}]}, "mark": {"type": "text", "text": ")", "fontSize": 16, "angle": 270, "align": "left", "baseline": "alphabetic", "dx": 41.5, "dy": 134}, "encoding": {"x": {"datum": 20}, "y": {"datum": -9.54e-21}}},
              {"data": {"values": [{}]}, "mark": {"type": "text", "text": "c", "font": "Open Sans", "fontSize": 36, "align": "left", "baseline": "alphabetic", "dx": -72, "dy": 5}, "encoding": {"x": {"datum": 0}, "y": {"datum": 0}}}
            ]
          },
          {
            "data": {"name": "c_dd"},
            "mark": {"type": "line", "color": "#ed1c24", "strokeWidth": 2.3, "strokeDash": [11, 7], "interpolate": "monotone"},
            "encoding": {
              "x": {"field": "d", "type": "quantitative", "title": "Center-to-center distance (\u03bcm)"},
              "y": {"field": "u", "type": "quantitative", "title": null, "scale": {"domain": [-1.5e-20, 0], "nice": false, "zero": false},
                    "axis": {"orient": "right", "values": [0,-2.5e-21,-5e-21,-7.5e-21,-1e-20,-1.25e-20,-1.5e-20], "labelExpr": "datum.value == 0 ? '0.0' : abs(datum.value + 5e-21) < 1e-23 ? '-5.0x10\u207b\u00b2\u00b9' : abs(datum.value + 1e-20) < 1e-23 ? '-1.0x10\u207b\u00b2\u2070' : abs(datum.value + 1.5e-20) < 1e-23 ? '-1.5x10\u207b\u00b2\u2070' : ''", "tickSize": {"condition": {"test": "abs(datum.value/5e-21 - round(datum.value/5e-21)) > 0.01", "value": 3.5}, "value": 6}, "labelFont": "Noto Sans", "labelFontSize": 17, "labelPadding": 2}}
            }
          }
        ],
        "resolve": {"scale": {"y": "independent"}}
      }
    ]
  }
]
}
